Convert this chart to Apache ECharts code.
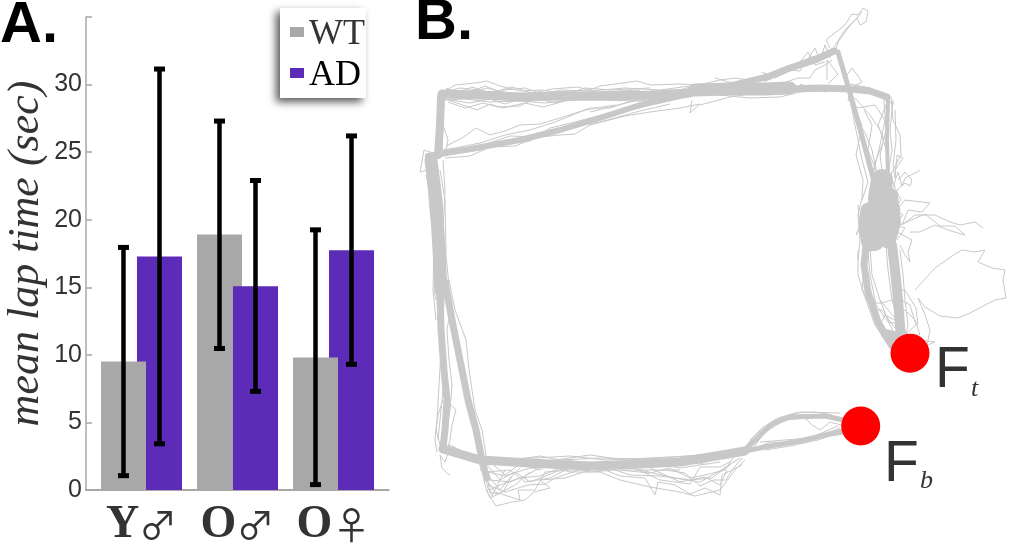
<!DOCTYPE html>
<html><head><meta charset="utf-8">
<style>html,body{margin:0;padding:0;background:#fff}#c{width:1011px;height:546px}</style>
<script src="https://cdn.jsdelivr.net/npm/echarts@6/dist/echarts.min.js"></script>
</head><body><div id="c"></div>
<script>
const categories = ['Y♂','O♂','O♀'];
const wtMean = [9.5, 18.9, 9.8];
const adMean = [17.27, 15.08, 17.74];
const wtLow = [1.06, 10.47, 0.4];
const wtHigh = [17.95, 27.3, 19.25];
const adLow = [3.42, 7.3, 9.3];
const adHigh = [31.15, 22.9, 26.2];
const adInFront = [false, true, false];
const yTicks = [0,5,10,15,20,25,30];
const feeders = [[910,353.3,'Ft'],[860.7,426,'Fb']];

// dense bundles of the trajectory
const coreTopLeft = [[442,94],[480,95],[520,97],[560,96],[600,96],[650,95],[690,93]];
const coreTopRight = [[695,90],[730,89],[765,89],[790,88]];
const coreTopCorner = [[785,89],[820,88],[850,89],[870,91],[887,97]];
const coreDiagonal = [[428,156],[470,149],[520,140],[560,130],[600,118],[640,105],[680,96],[720,88],[770,76]];
const coreDiagonalEnd = [[765,78],[790,68],[815,60],[834,51]];
const coreLeftTop = [[441,97],[440,125],[438,155]];
const coreLeftMid = [[431,160],[436,200],[439,250],[441,290]];
const coreLeftA = [[440,285],[441,330],[444,370],[447,400],[445,430],[443,448]];
const coreLeftB = [[445,282],[452,320],[460,360],[468,400],[476,430],[483,465],[487,478]];
const coreBottom = [[443,449],[480,460],[530,463],[590,466],[640,464],[680,462],[710,457],[745,451]];
const coreLoopUp = [[745,450],[757,438],[772,424],[790,417],[825,416],[848,421]];
const coreLoopLow = [[745,451],[770,446],[800,441],[825,435],[848,430]];
const coreRightLow = [[901,338],[898,300],[895,270],[892,245]];
const coreLeftLow = [[892,346],[878,322],[868,292],[864,265],[866,245]];
const coreWedge = [[886,334],[900,338]];
const blob1 = [[882,180],[879,198],[880,222],[874,240]];
const blob2 = [[868,210],[866,228],[870,244]];
const blob3 = [[890,196],[893,222],[888,240]];
const blob4 = [[873,196],[872,214]];
const coreRightUp = [[888,178],[887,140],[888,100]];
const coreLeftUp = [[873,178],[863,140],[852,100],[838,52]];

// individual thin runs
const run01 = [[443,92],[455,85],[475,83],[487,81],[500,86],[520,91],[540,90],[555,92],[590,90],[600,86],[637,81],[650,85],[680,84],[700,85]];
const run02 = [[442,98],[460,104],[477,110],[490,104],[503,108],[525,103],[543,107],[565,101],[590,98],[610,100]];
const run03 = [[445,90],[470,92],[487,88],[510,94],[535,96],[560,90],[590,91],[625,88],[660,90],[690,86],[700,88]];
const run04 = [[443,100],[465,99],[490,102],[520,101],[545,103],[570,100],[600,100],[640,101],[660,98]];
const run05 = [[443,96],[462,90],[480,99],[505,90],[525,88],[550,97],[575,93],[600,92],[640,90]];
const run06 = [[446,146],[462,138],[476,128],[490,135],[505,131],[520,125],[540,124],[560,118],[585,110],[615,105]];
const run07 = [[450,152],[480,146],[510,136],[540,137],[560,135],[575,134],[590,125],[625,116],[650,112],[680,108],[700,104],[690,113],[692,100]];
const run08 = [[590,112],[630,102],[660,96],[690,87],[720,80],[736,78],[760,82],[775,72],[790,70],[800,71],[815,48],[820,60],[825,45],[830,58]];
const run09 = [[700,105],[730,97],[755,93],[780,84],[798,78],[810,78],[815,70],[825,65],[832,60]];
const run10 = [[830,48],[826,40],[836,32],[845,25],[852,14],[858,15],[863,8],[868,11],[866,22],[860,25],[857,18],[848,28],[838,42],[836,50]];
const run11 = [[834,47],[845,30],[855,20],[862,12]];
const run12 = [[836,52],[845,78],[852,68],[858,76],[862,82],[850,88],[848,100],[858,108],[875,105],[885,120],[880,145],[875,165],[870,190]];
const run13 = [[891,97],[893,120],[900,135],[901,155],[892,172],[886,190]];
const run14 = [[854,108],[862,125],[856,155],[863,180],[862,198],[858,215],[860,240],[858,260]];
const run15 = [[864,110],[872,125],[868,150],[878,175],[880,195]];
const run16 = [[892,190],[898,172],[902,186],[905,178],[917,172],[920,170]];
const run17 = [[895,192],[905,183],[910,186],[912,180],[905,172],[898,180]];
const run18 = [[892,215],[905,200],[922,202],[930,203],[922,212],[908,210],[902,225],[915,215],[935,215],[950,222],[960,225],[975,222],[983,228]];
const run19 = [[900,225],[925,214],[940,226],[955,226],[965,235],[958,233],[948,230],[935,225],[920,232],[910,232]];
const run20 = [[897,232],[912,240],[908,252],[910,262],[905,255],[900,245]];
const run21 = [[915,290],[935,268],[955,254],[962,250],[975,252],[985,250],[978,262],[992,268],[1005,270],[1003,280],[1006,298],[995,300],[985,305],[970,313],[958,318],[940,316],[925,307],[918,298],[925,315],[930,330],[927,345]];
const run22 = [[905,335],[916,325],[910,305],[898,298],[882,303],[870,303]];
const run23 = [[890,340],[880,325],[885,315],[895,320],[908,335],[898,345]];
const run24 = [[920,340],[935,342],[925,346],[918,345]];
const run25 = [[450,448],[445,462],[440,455],[442,468],[448,474],[450,475]];
const run26 = [[432,155],[428,170],[420,172],[424,150],[430,152],[436,155]];
const run27 = [[445,156],[448,140],[443,125],[437,135],[435,160],[427,172],[430,210],[434,240],[433,290],[436,320]];
const run28 = [[440,170],[445,200],[446,250],[444,300],[441,350],[437,420],[435,440],[437,452]];
const run29 = [[449,280],[455,310],[466,340],[469,370],[475,410],[482,430],[486,455],[484,470]];
const run30 = [[446,400],[456,410],[452,425],[450,440],[447,450]];
const run31 = [[443,400],[438,415],[436,430],[440,445],[455,448],[465,455],[478,462]];
const run32 = [[485,478],[495,492],[520,500],[518,490],[535,490],[545,472],[570,470],[600,470]];
const run33 = [[486,490],[496,506],[512,502],[525,500],[534,492],[550,488],[540,480],[565,478],[590,470]];
const run34 = [[487,465],[500,480],[515,472],[530,482],[548,475],[560,470],[590,464]];
const run35 = [[488,460],[505,475],[520,464],[540,470],[555,460],[590,455],[625,460],[660,458],[700,455]];
const run36 = [[490,480],[510,482],[525,476],[545,465],[570,472],[600,472],[620,480],[650,487],[680,492],[695,496],[720,490],[735,470],[745,460]];
const run37 = [[600,468],[620,476],[645,478],[655,495],[658,482],[675,485],[690,494],[705,488],[720,495],[722,475],[742,465]];
const run38 = [[620,470],[650,473],[670,468],[690,478],[705,475],[725,470],[735,455]];
const run39 = [[630,466],[660,480],[690,484],[700,467],[720,467],[730,462]];
const run40 = [[665,470],[685,473],[700,486],[713,480],[726,480],[732,470],[742,458]];
const run41 = [[750,440],[762,428],[778,418],[795,413],[815,412],[832,415]];
const run42 = [[750,452],[765,432],[785,420],[805,418],[812,425],[820,430],[830,422],[845,426]];
const run43 = [[765,450],[790,446],[818,440],[830,436],[845,434]];
const run44 = [[500,462],[540,456],[560,460],[600,458],[640,459],[665,460],[700,464],[725,456]];
const run45 = [[865,262],[862,290],[872,310],[882,310],[895,328]];
const run46 = [[868,252],[870,275],[876,305],[888,322],[905,325]];
const run47 = [[560,462],[590,472],[615,470],[640,470],[680,470]];
const run48 = [[444,92],[460,88],[478,90],[495,97],[515,100],[540,99],[565,97],[590,94],[620,92],[660,92]];
const run49 = [[445,99],[470,103],[490,99],[505,104],[530,96],[555,103],[575,97],[600,99],[630,96]];
const run50 = [[442,94],[465,94],[485,86],[500,92],[520,95],[545,94],[570,93],[585,88],[610,90],[650,88]];
const run51 = [[448,102],[465,108],[483,103],[498,107],[520,106],[535,98],[552,99],[575,100]];
const run52 = [[446,88],[458,93],[472,87],[490,93],[512,87],[532,93],[552,89],[578,87],[596,92]];
const run53 = [[445,158],[470,156],[490,147],[515,146],[540,136],[570,127],[600,122],[640,111],[670,104]];
const run54 = [[440,150],[455,148],[480,143],[505,135],[530,130],[555,122],[590,108],[610,108],[640,98]];
const run55 = [[447,155],[480,150],[508,143],[530,141],[550,128],[575,122],[605,114],[640,108],[665,98]];
const run56 = [[851,100],[858,120],[866,135],[872,150],[876,170]];
const run57 = [[886,105],[878,125],[884,140],[876,160],[872,178]];
const run58 = [[855,98],[870,115],[880,130],[888,155]];
const run59 = [[893,100],[890,130],[892,150],[888,175]];
const run60 = [[884,100],[886,130],[880,155],[883,178]];
const run61 = [[849,95],[856,130],[862,160],[868,182],[862,200]];
const run62 = [[895,110],[896,140],[893,165],[895,178],[897,155],[903,158],[895,170]];
const run63 = [[858,205],[860,225],[856,235],[860,230],[862,245],[866,250],[872,243],[880,240],[885,248],[892,238],[898,225],[900,210],[896,195]];
const run64 = [[892,180],[896,190],[901,200],[893,210],[903,215],[895,225],[905,228],[897,240]];
const run65 = [[858,250],[858,275],[866,300],[875,325],[888,345]];
const run66 = [[870,248],[872,275],[880,300],[890,325],[898,340]];
const run67 = [[886,245],[888,270],[892,300],[900,325]];
const run68 = [[900,250],[903,275],[905,300],[908,325],[905,338]];
const run69 = [[880,300],[895,318],[905,310],[915,320],[920,335],[910,335]];
const run70 = [[895,290],[905,290],[916,308],[918,325]];
const run71 = [[426,175],[432,200],[437,230],[436,265],[434,290],[436,300]];
const run72 = [[443,160],[445,190],[443,230],[447,265],[449,285]];
const run73 = [[438,100],[437,130],[439,150]];
const run74 = [[444,100],[443,125],[442,150]];
const run75 = [[436,280],[438,320],[441,360],[443,390],[440,420],[438,440]];
const run76 = [[452,300],[447,330],[449,360],[452,385],[450,410],[446,435]];
const run77 = [[441,450],[450,445],[470,455],[490,462]];
const run78 = [[480,470],[505,476],[530,468],[560,466],[585,470]];
const run79 = [[490,490],[500,485],[520,478],[540,476],[560,468],[600,464]];
const run80 = [[486,472],[510,470],[525,482],[550,478],[575,465]];
const run81 = [[488,485],[505,492],[528,485],[545,484],[555,478],[585,468]];
const run82 = [[600,465],[630,475],[660,476],[690,480],[712,478],[730,465]];
const run83 = [[610,462],[640,470],[675,478],[700,482],[718,472],[740,458]];
const run84 = [[650,468],[680,482],[705,477],[720,485],[727,470]];
const run85 = [[500,459],[535,458],[570,456],[605,460],[650,458],[690,456],[720,452]];
const run86 = [[530,468],[570,460],[600,471],[640,460],[680,468],[720,462]];
const run87 = [[755,445],[770,425],[790,418],[820,417],[845,420]];
const run88 = [[760,442],[785,440],[810,438],[838,426]];
const run89 = [[740,455],[770,442],[795,443],[820,436],[840,428]];
const run90 = [[715,458],[740,453],[755,435],[775,420],[800,412],[840,413]];
const run91 = [[715,78],[735,84],[760,80],[780,72],[800,62],[820,55],[833,50]];
const run92 = [[720,95],[750,98],[780,97],[800,92],[830,90],[860,92]];
const run93 = [[800,84],[825,92],[850,84],[870,88],[885,100],[894,104]];
const run94 = [[762,72],[775,78],[795,68],[808,52],[815,65],[825,62]];
const run95 = [[827,80],[827,60],[838,74],[828,84]];
const run96 = [[745,84],[770,78],[790,66],[812,57],[830,52]];
const run97 = [[478,440],[483,470],[488,488],[492,496],[497,486],[505,470]];
const run98 = [[480,450],[490,478],[500,490],[508,480],[520,468]];
const run99 = [[484,462],[490,492],[498,494],[515,485],[530,472]];
const run100 = [[474,430],[480,458],[485,485],[490,498],[503,492],[512,476]];

const cores = [[coreTopLeft,9],[coreTopRight,13],[coreTopCorner,7],[coreDiagonal,6],[coreDiagonalEnd,7],[coreLeftTop,8],[coreLeftMid,13],[coreLeftA,7],[coreLeftB,7],
  [coreBottom,9],[coreLoopUp,5],[coreLoopLow,5],[coreRightLow,10],[coreLeftLow,7],[coreWedge,10],[blob1,22],[blob2,15],[blob3,16],[blob4,8],[coreRightUp,4],[coreLeftUp,5]];
const runs = [run01,run02,run03,run04,run05,run06,run07,run08,run09,run10,run11,run12,run13,run14,run15,run16,run17,run18,run19,run20,run21,run22,run23,run24,
  run25,run26,run27,run28,run29,run30,run31,run32,run33,run34,run35,run36,run37,run38,run39,run40,run41,run42,run43,run44,run45,run46,run47,run48,
  run49,run50,run51,run52,run53,run54,run55,run56,run57,run58,run59,run60,run61,run62,run63,run64,run65,run66,run67,run68,run69,run70,run71,run72,
  run73,run74,run75,run76,run77,run78,run79,run80,run81,run82,run83,run84,run85,run86,run87,run88,run89,run90,run91,run92,run93,run94,run95,run96,run97,run98,run99,run100];

const WT_COLOR = '#a8a8a8', AD_COLOR = '#5c2bb8', PATH = '#c8c8c8', INK = '#333';
const SANS = '"Liberation Sans",Arial,sans-serif', SERIF = '"Liberation Serif","Times New Roman",serif';
const BAR = 0.469, OFF = 0.1875;
const LEGEND_ICON = 'path://M0,0L14,0L14,10L0,10ZM0,16L0,16Z';

function barSeries(name, vals, color, dx, front) {
  return {
    name, type:'custom', xAxisIndex:0, yAxisIndex:0, coordinateSystem:'cartesian2d', silent:true,
    itemStyle:{color},
    data: vals.map((v,i)=>[i+1,v]),
    encode:{x:0,y:1},
    renderItem(p,api){
      const i = p.dataIndex, x = api.value(0)+dx;
      const a = api.coord([x-BAR/2,api.value(1)]), b = api.coord([x+BAR/2,0]);
      return {type:'rect', z2: front(i)?3:2, shape:{x:a[0],y:a[1],width:b[0]-a[0],height:b[1]-a[1]}, style:{fill:color}};
    }
  };
}
function errSeries(name, lows, highs, dx) {
  return {
    name, type:'custom', xAxisIndex:0, yAxisIndex:0, coordinateSystem:'cartesian2d', silent:true,
    data: lows.map((v,i)=>[i+1,v,highs[i]]),
    encode:{x:0,y:[1,2]},
    renderItem(p,api){
      const x = api.value(0)+dx;
      const lo = api.coord([x,api.value(1)]), hi = api.coord([x,api.value(2)]);
      const cx = lo[0];
      const r = (xx,yy,w,h)=>({type:'rect', z2:10, shape:{x:xx,y:yy,width:w,height:h}, style:{fill:'#000'}});
      return {type:'group', children:[
        r(cx-2.25,hi[1],4.5,lo[1]-hi[1]), r(cx-5.5,hi[1]-2.5,11,5), r(cx-5.5,lo[1]-2.5,11,5)
      ]};
    }
  };
}
const pathSeries = cores.map(([d,w])=>({type:'line', xAxisIndex:1, yAxisIndex:1, data:d, showSymbol:false, symbol:'none', silent:true, lineStyle:{color:PATH,width:w,join:'round',cap:'round'}, z:1, clip:false}))
  .concat(runs.map(d=>({type:'line', xAxisIndex:1, yAxisIndex:1, data:d, showSymbol:false, symbol:'none', silent:true, lineStyle:{color:PATH,width:1}, z:1, clip:false})));

const chart = echarts.init(document.getElementById('c'), null, {renderer:'canvas'});
chart.setOption({
  animation:false, backgroundColor:'#fff',
  textStyle:{fontFamily:SANS},
  legend:{
    left:280, top:8, orient:'vertical', padding:[9,1,4,10], itemGap:5, itemWidth:14, itemHeight:16, itemStyle:{borderWidth:0},
    backgroundColor:'#fff', shadowColor:'rgba(0,0,0,0.65)', shadowBlur:8, shadowOffsetX:-4, shadowOffsetY:4,
    selectedMode:false,
    textStyle:{fontFamily:SERIF, fontSize:36, color:INK},
    data:[{name:'WT',icon:LEGEND_ICON},{name:'AD',icon:LEGEND_ICON,textStyle:{color:'#000'}}]
  },
  grid:[{left:86,top:17,width:303,height:473,outerBoundsMode:'none'},{left:410,top:0,width:600,height:546,outerBoundsMode:'none'}],
  xAxis:[
    {type:'value', gridIndex:0, min:0.422, max:3.578, splitLine:{show:false},
     axisLine:{lineStyle:{color:'#8c8c8c',width:1.5}}, axisTick:{show:false},
     axisLabel:{customValues:[1,2,3], margin:12, formatter:v=>{const s=categories[v-1]; return '{a|'+s[0]+'}{b|'+s[1]+'}';},
       rich:{a:{fontFamily:SERIF,fontWeight:'bold',fontSize:46,color:INK},b:{fontFamily:'"Noto Sans CJK SC"',fontSize:38,color:INK}}}},
    {type:'value', gridIndex:1, min:410, max:1010, show:false}
  ],
  yAxis:[
    {type:'value', gridIndex:0, min:0, max:35, interval:5, splitLine:{show:false},
     axisLine:{show:true,lineStyle:{color:'#a8a8a8',width:1.5}},
     axisTick:{show:true,inside:true,length:6,lineStyle:{color:'#a8a8a8',width:1.5}},
     axisLabel:{margin:4,fontSize:25,color:INK,fontFamily:SANS,showMaxLabel:true,formatter:v=>yTicks.includes(v)?String(v):''},
     name:'mean lap time (sec)', nameLocation:'middle', nameGap:38, nameRotate:90,
     nameTextStyle:{fontFamily:SERIF,fontStyle:'italic',fontSize:44,color:INK}},
    {type:'value', gridIndex:1, min:0, max:546, inverse:true, show:false}
  ],
  series:[
    barSeries('WT', wtMean, WT_COLOR, -OFF, i=>!adInFront[i]),
    barSeries('AD', adMean, AD_COLOR, OFF, i=>adInFront[i]),
    errSeries('WT range', wtLow, wtHigh, -OFF),
    errSeries('AD range', adLow, adHigh, OFF),
    ...pathSeries,
    {type:'scatter', xAxisIndex:1, yAxisIndex:1, data:feeders, symbol:'circle', symbolSize:39, silent:true, itemStyle:{color:'#ff0000',opacity:1}, z:5, label:{show:false}}
  ],
  graphic:[
    {type:'text',left:0,top:-3,style:{text:'A.',font:'bold 58px '+SANS,fill:'#000'}},
    {type:'text',left:415,top:-6,style:{text:'B.',font:'bold 58px '+SANS,fill:'#000'}},
    {type:'text',left:935,top:343,style:{text:'F',font:'57px '+SANS,fill:INK}},
    {type:'text',left:971,top:376,style:{text:'t',font:'italic 26px '+SERIF,fill:INK}},
    {type:'text',left:884,top:437,style:{text:'F',font:'57px '+SANS,fill:INK}},
    {type:'text',left:920,top:468,style:{text:'b',font:'italic 26px '+SERIF,fill:INK}}
  ]
});
</script></body></html>
